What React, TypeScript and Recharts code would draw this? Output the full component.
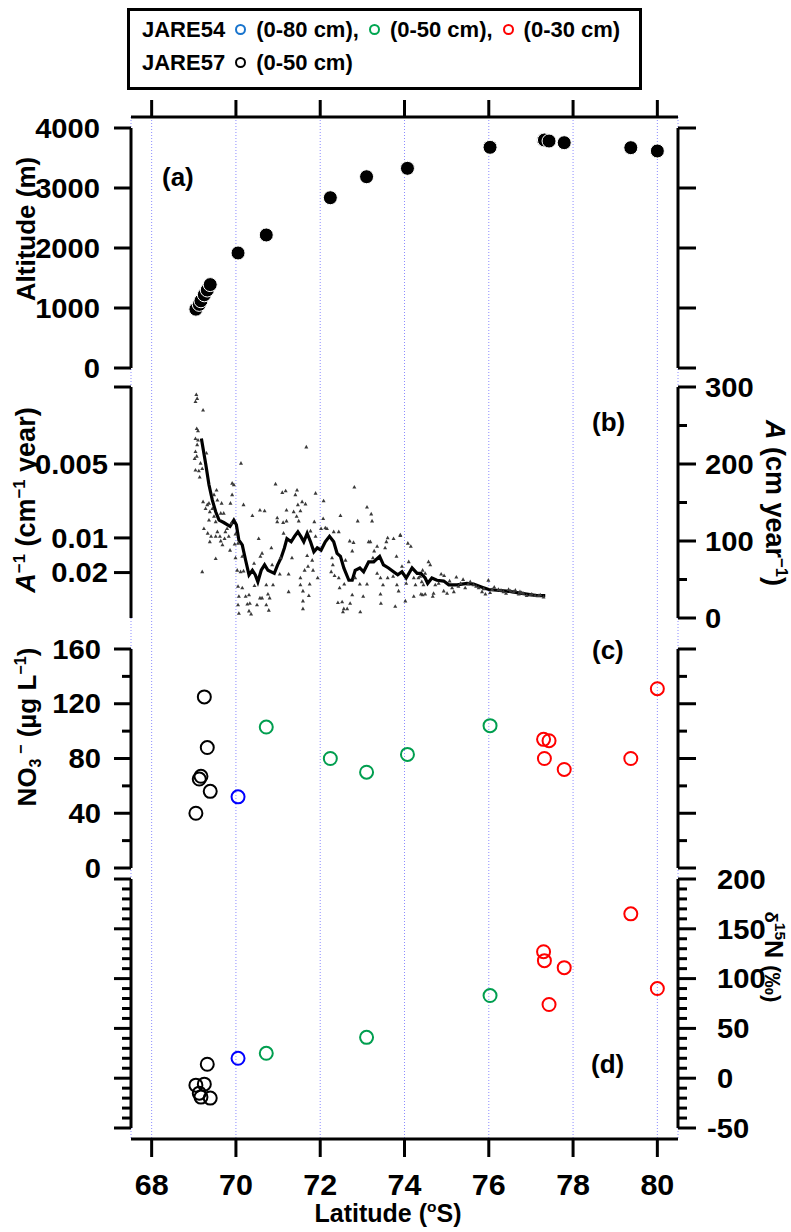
import React from 'react';
import { ComposedChart, Scatter, Line, XAxis, YAxis, CartesianGrid } from 'recharts';

// ---------- data ----------
const X_DOMAIN: [number, number] = [67.51, 80.49];
const latTicks = [68, 70, 72, 74, 76, 78, 80];

// JARE57 (0-50 cm) black
const lat57 = [69.05, 69.13, 69.17, 69.25, 69.32, 69.39];
const alt57 = [980, 1060, 1120, 1220, 1300, 1390];
const no3_57 = [40, 65, 67, 125, 88, 56];
const d15_57 = [-7, -15, -19, -6, 14, -20];

// JARE54 (0-80 cm) blue
const lat80 = [70.05];
const alt80 = [1917];
const no3_80 = [52];
const d15_80 = [20];

// JARE54 (0-50 cm) green
const lat50 = [70.72, 72.24, 73.1, 74.07, 76.03];
const alt50 = [2217, 2838, 3188, 3328, 3678];
const no3_50 = [103, 80, 70, 83, 104];
const d15_50: (number | null)[] = [25, null, 41, null, 83];

// JARE54 (0-30 cm) red
const lat30 = [77.3, 77.32, 77.43, 77.79, 79.37, 80.0];
const alt30 = [3800, 3800, 3783, 3755, 3672, 3617];
const no3_30 = [94, 80, 93, 72, 80, 131];
const d15_30 = [127, 118, 74, 111, 165, 90];

// Panel (b) accumulation scatter (A, cm year-1)
const bScatLat = [
  69.06, 69.08, 69.04, 69.22, 69.07, 69.1, 69.04, 69.1, 69.08, 69.04, 69.07, 69.02, 69.16, 69.04, 69.12, 69.2, 69.14, 69.3, 69.2, 69.22,
  69.28, 69.32, 69.36, 69.54, 69.48, 69.56, 69.66, 69.38, 69.44, 69.36, 69.48, 69.52, 69.64, 69.71, 69.24, 69.33, 69.41, 69.38, 69.52, 69.56,
  69.62, 69.64, 69.68, 69.75, 69.79, 69.73, 69.83, 69.86, 69.52, 69.87, 69.91, 69.95, 69.91, 69.89, 69.99, 69.97, 69.99, 70.05, 70.03, 70.12,
  70.18, 70.15, 70.11, 70.18, 70.05, 70.15, 70.07, 70.05, 70.07, 70.23, 70.31, 70.27, 70.33, 70.31, 70.36, 70.39, 70.43, 70.44, 70.5, 70.54,
  70.57, 70.68, 70.58, 70.62, 70.62, 70.57, 70.72, 70.76, 70.8, 70.72, 70.78, 70.84, 70.88, 70.86, 70.94, 70.98, 70.98, 71.06, 71.04, 71.1,
  71.18, 71.2, 71.12, 71.2, 71.13, 71.25, 71.25, 71.41, 71.45, 71.37, 71.47, 71.44, 71.49, 71.57, 71.53, 71.33, 71.53, 71.59, 71.59, 71.63,
  71.67, 71.65, 71.89, 71.86, 72.08, 72.07, 71.77, 71.89, 72.02, 72.12, 72.16, 72.32, 72.44, 72.48, 72.81, 73.11, 72.89, 73.21, 73.23, 72.7,
  72.79, 72.76, 73.15, 73.19, 73.6, 73.57, 73.35, 73.28, 73.54, 73.9, 74.08, 74.15, 71.69, 71.81, 71.83, 71.71, 71.53, 71.75, 71.94, 71.73,
  71.59, 72.28, 72.3, 72.26, 72.34, 72.44, 72.46, 72.57, 72.6, 72.42, 72.52, 72.56, 72.54, 72.64, 72.71, 72.76, 72.83, 72.94, 72.95, 73.02,
  73.11, 73.25, 73.35, 73.43, 73.49, 73.43, 73.44, 73.6, 73.73, 73.82, 73.86, 73.78, 73.94, 74.04, 74.02, 74.1, 74.22, 74.26, 74.33, 74.41,
  74.39, 74.22, 74.45, 74.43, 74.57, 74.61, 74.49, 74.37, 74.43, 74.49, 74.67, 74.69, 74.73, 74.81, 74.87, 74.94, 74.93, 75.01, 75.07, 75.13,
  75.17, 75.23, 75.28, 75.39, 75.44, 75.56, 75.64, 75.76, 75.84, 75.92, 75.99, 76.03, 76.13, 76.23, 76.35, 76.47, 76.59, 76.71, 76.82, 76.9,
  77.02, 77.1, 77.22, 77.3, 76.41, 76.74, 75.33, 75.51, 75.7, 75.88, 76.08, 76.29, 76.52, 76.63, 76.78, 76.98, 77.18, 73.74, 73.9, 73.81,
];
const bScatA = [
  290, 285, 281, 270, 246, 243, 233, 231, 225, 216, 210, 207, 201, 192, 191, 194, 183, 214, 60, 151,
  142, 147, 149, 166, 160, 153, 149, 138, 142, 127, 132, 125, 136, 136, 116, 110, 106, 99, 106, 112,
  106, 100, 95, 112, 116, 103, 106, 88, 77, 149, 175, 173, 160, 123, 109, 96, 78, 97, 62, 201,
  147, 80, 60, 61, 41, 39, 28, 17, 6, 28, 30, 18, 19, 9, 5, 133, 71, 42, 17, 103,
  140, 139, 80, 84, 26, 26, 43, 31, 26, 17, 10, 91, 43, 69, 174, 130, 125, 78, 57, 163,
  165, 140, 124, 126, 110, 57, 34, 160, 166, 138, 147, 132, 126, 151, 139, 78, 52, 35, 12, 62,
  222, 148, 162, 125, 152, 129, 113, 106, 116, 117, 116, 112, 112, 133, 170, 144, 126, 135, 126, 100,
  98, 87, 99, 99, 104, 99, 93, 87, 91, 107, 97, 93, 81, 75, 62, 67, 43, 44, 52, 29,
  22, 78, 69, 60, 55, 52, 39, 44, 75, 20, 21, 12, 8, 12, 19, 30, 52, 44, 8, 28,
  44, 78, 58, 52, 43, 31, 19, 52, 54, 43, 35, 15, 67, 45, 22, 73, 52, 43, 52, 47,
  31, 28, 43, 62, 73, 69, 58, 54, 30, 31, 28, 32, 43, 45, 57, 55, 35, 32, 48, 39,
  34, 53, 41, 50, 39, 47, 43, 39, 34, 31, 49, 33, 40, 37, 34, 37, 34, 31, 32, 29,
  31, 29, 30, 27, 32, 34, 45, 44, 41, 38, 37, 36, 35, 36, 33, 30, 29, 103, 108, 80,
];

// Panel (b) running mean
const bLineLat = [
  69.18, 69.28, 69.36, 69.44, 69.52, 69.6, 69.71, 69.86, 69.95, 70.01, 70.07, 70.15, 70.23, 70.31, 70.39, 70.46, 70.52, 70.6, 70.68, 70.76,
  70.91, 70.99, 71.07, 71.15, 71.21, 71.31, 71.39, 71.47, 71.55, 71.61, 71.69, 71.77, 71.85, 71.93, 72.02, 72.12, 72.22, 72.32, 72.4, 72.48,
  72.56, 72.68, 72.76, 72.83, 72.94, 73.03, 73.15, 73.27, 73.41, 73.5, 73.62, 73.74, 73.84, 73.94, 74.04, 74.18, 74.3, 74.39, 74.49, 74.55,
  74.65, 74.77, 74.93, 75.05, 75.25, 75.48, 75.64, 75.84, 76.0, 76.19, 76.43, 76.67, 76.9, 77.14, 77.34,
];
const bLineA = [
  233, 201, 173, 153, 138, 127, 124, 119, 127, 121, 101, 95, 75, 56, 62, 56, 47, 62, 69, 62,
  58, 69, 78, 91, 103, 99, 106, 112, 105, 99, 110, 99, 86, 91, 88, 99, 106, 99, 84, 80,
  65, 49, 49, 62, 65, 60, 73, 73, 80, 69, 65, 60, 56, 60, 52, 65, 58, 58, 52, 45,
  52, 49, 48, 43, 43, 45, 44, 40, 37, 36, 35, 33, 31, 29, 29,
];

// axis ticks
const altTicks = [0, 1000, 2000, 3000, 4000];
const bRightTicks = [0, 50, 100, 150, 200, 250, 300];
const bRightMajor = [0, 100, 200, 300];
const bLeftTicks = [59, 104, 200, 300];
const bLeftLabels: Record<string, string> = { '59': '0.02', '104': '0.01', '200': '0.005' };
const no3Ticks = [0, 20, 40, 60, 80, 100, 120, 140, 160];
const no3Major = [0, 40, 80, 120, 160];
const d15Ticks = [-50, -40, -30, -20, -10, 0, 10, 20, 30, 40, 50, 60, 70, 80, 90, 100, 110, 120, 130, 140, 150, 160, 170, 180, 190, 200];
const d15Major = [-50, 0, 50, 100, 150, 200];

// ---------- helpers ----------
const FONT = "'Liberation Sans', Arial, Helvetica, sans-serif";
const pts = (xs: number[], ys: (number | null)[]) =>
  xs.map((x, i) => ({ x, y: ys[i] })).filter((p) => p.y !== null && p.y !== undefined) as { x: number; y: number }[];
const labelsOf = (vals: number[]) => {
  const r: Record<string, string> = {};
  vals.forEach((v) => (r[String(v)] = String(v)));
  return r;
};

type TickCfg = {
  side: 'left' | 'right';
  major: number[];
  labels?: Record<string, string>;
  majorLen: number;
  minorLen: number;
  gap: number;
  fs?: number;
};
const SX = 1.08;
const makeYTick = (cfg: TickCfg) => (props: any) => {
  const { x, y, payload } = props;
  const v = payload.value;
  const isMajor = cfg.major.includes(v);
  const len = isMajor ? cfg.majorLen : cfg.minorLen;
  const dir = cfg.side === 'left' ? -1 : 1;
  const label = cfg.labels ? cfg.labels[String(v)] : undefined;
  const fs = cfg.fs ?? 27;
  let tx = cfg.side === 'left' ? x - cfg.gap : x + cfg.gap;
  if (cfg.side === 'right' && label && label.startsWith('-')) tx -= 10;
  return (
    <g>
      <line x1={x} y1={y} x2={x + dir * len} y2={y} stroke="#000" strokeWidth={3} />
      {label ? (
        <text
          transform={`translate(${tx},${y + fs * 0.36}) scale(${SX},1)`}
          x={0}
          y={0}
          textAnchor={cfg.side === 'left' ? 'end' : 'start'}
          fontSize={fs}
          fontWeight={700}
          fontFamily={FONT}
          fill="#000"
        >
          {label}
        </text>
      ) : null}
    </g>
  );
};

const bottomTick = (props: any) => {
  const { x, y, payload } = props;
  return (
    <g>
      <line x1={x} y1={y} x2={x} y2={y + 18} stroke="#000" strokeWidth={3} />
      <text
        transform={`translate(${x},${y + 56}) scale(1.05,1)`}
        x={0}
        y={0}
        textAnchor="middle"
        fontSize={29}
        fontWeight={700}
        fontFamily={FONT}
        fill="#000"
      >
        {payload.value}
      </text>
    </g>
  );
};
const topTick = (props: any) => {
  const { x, y } = props;
  return <line x1={x} y1={y} x2={x} y2={y - 17} stroke="#000" strokeWidth={3} />;
};

const filledDot = (p: any) => <circle cx={p.cx} cy={p.cy} r={7} fill="#000" stroke="#fff" strokeWidth={1} />;
const ring = (color: string) => (p: any) => <circle cx={p.cx} cy={p.cy} r={6.5} fill="none" stroke={color} strokeWidth={2} />;
const tri = (p: any) => (
  <path d={`M${p.cx},${p.cy - 2.2}L${p.cx + 2},${p.cy + 1.4}L${p.cx - 2},${p.cy + 1.4}Z`} fill="#3a3a3a" />
);

const AXIS_LINE = { stroke: '#000', strokeWidth: 3 };
const PAD = 30;

function PanelChart({ top, bottom, children }: { top: number; bottom: number; children: React.ReactNode }) {
  const h = bottom - top + PAD * 2;
  return (
    <div style={{ position: 'absolute', left: 0, top: top - PAD, width: 791, height: h }}>
      <ComposedChart width={791} height={h} margin={{ top: PAD, bottom: PAD, left: 0, right: 0 }}>
        <XAxis type="number" dataKey="x" domain={X_DOMAIN} hide allowDataOverflow />
        {children}
      </ComposedChart>
    </div>
  );
}

const yAxisCommon = {
  type: 'number' as const,
  dataKey: 'y',
  tickLine: false,
  tickSize: 0,
  tickMargin: 0,
  interval: 0 as const,
  axisLine: AXIS_LINE,
  allowDataOverflow: true,
};

const supS: React.CSSProperties = { fontSize: '0.62em', position: 'relative', top: '-0.62em' };
const subS: React.CSSProperties = { fontSize: '0.62em', position: 'relative', top: '0.3em' };

function Rot({ cx, cy, deg, fs = 26, children }: { cx: number; cy: number; deg: number; fs?: number; children: React.ReactNode }) {
  return (
    <div
      style={{
        position: 'absolute',
        left: cx,
        top: cy,
        transform: `translate(-50%, -50%) rotate(${deg}deg)`,
        whiteSpace: 'nowrap',
        fontFamily: FONT,
        fontWeight: 700,
        fontSize: fs,
        lineHeight: 1,
        color: '#000',
      }}
    >
      {children}
    </div>
  );
}

function PanelLabel({ left, cy, text }: { left: number; cy: number; text: string }) {
  return (
    <div style={{ position: 'absolute', left, top: cy - 13, fontFamily: FONT, fontWeight: 700, fontSize: 26, lineHeight: '26px', whiteSpace: 'nowrap' }}>
      {text}
    </div>
  );
}

const LegCircle = ({ color }: { color: string }) => (
  <span
    style={{
      display: 'inline-block',
      width: 7,
      height: 7,
      border: `2px solid ${color}`,
      borderRadius: '50%',
      margin: '0 10px 0 10px',
      verticalAlign: 'middle',
      position: 'relative',
      top: -2,
    }}
  />
);

export default function App() {
  const blackPts = pts(lat57, alt57).concat(pts(lat80, alt80), pts(lat50, alt50), pts(lat30, alt30));
  const bScat = pts(bScatLat, bScatA);
  const bLine = pts(bLineLat, bLineA);

  return (
    <div style={{ position: 'absolute', left: 0, top: 0, width: 791, height: 1232, background: '#fff', overflow: 'hidden' }}>
      {/* background: x axes + vertical grid */}
      <div style={{ position: 'absolute', left: 0, top: 0, width: 791, height: 1232 }}>
        <ComposedChart width={791} height={1232} margin={{ top: 116, bottom: 92, left: 131, right: 113 }}>
          <CartesianGrid xAxisId="b" horizontal={false} stroke="#8c8cff" strokeDasharray="1 2" strokeWidth={1} />
          <XAxis
            xAxisId="b"
            type="number"
            dataKey="x"
            domain={X_DOMAIN}
            ticks={latTicks}
            interval={0}
            orientation="bottom"
            height={1}
            tickSize={0}
            tickMargin={0}
            tickLine={false}
            tick={bottomTick}
            axisLine={AXIS_LINE}
            allowDataOverflow
          />
          <XAxis
            xAxisId="t"
            type="number"
            dataKey="x"
            domain={X_DOMAIN}
            ticks={latTicks}
            interval={0}
            orientation="top"
            height={1}
            tickSize={0}
            tickMargin={0}
            tickLine={false}
            tick={topTick}
            axisLine={AXIS_LINE}
            allowDataOverflow
          />
          <YAxis hide type="number" dataKey="y" domain={[0, 1]} />
          <Scatter xAxisId="b" data={[{ x: 74, y: 0.5 }]} shape={() => <g />} isAnimationActive={false} />
          <Scatter xAxisId="t" data={[{ x: 74, y: 0.5 }]} shape={() => <g />} isAnimationActive={false} />
        </ComposedChart>
      </div>

      {/* (a) altitude */}
      <PanelChart top={128} bottom={368}>
        <YAxis
          {...yAxisCommon}
          yAxisId="l"
          orientation="left"
          width={131}
          domain={[0, 4000]}
          ticks={altTicks}
          tick={makeYTick({ side: 'left', major: altTicks, labels: labelsOf(altTicks), majorLen: 17, minorLen: 9, gap: 31 })}
        />
        <YAxis
          {...yAxisCommon}
          yAxisId="r"
          orientation="right"
          width={113}
          domain={[0, 4000]}
          ticks={altTicks}
          tick={makeYTick({ side: 'right', major: altTicks, majorLen: 18, minorLen: 9, gap: 20 })}
        />
        <Scatter yAxisId="l" data={blackPts} shape={filledDot} isAnimationActive={false} />
      </PanelChart>

      {/* (b) accumulation */}
      <PanelChart top={387} bottom={618}>
        <YAxis
          {...yAxisCommon}
          yAxisId="l"
          orientation="left"
          width={131}
          domain={[0, 300]}
          ticks={bLeftTicks}
          tick={makeYTick({ side: 'left', major: bLeftTicks, labels: bLeftLabels, majorLen: 17, minorLen: 9, gap: 23 })}
        />
        <YAxis
          {...yAxisCommon}
          yAxisId="r"
          orientation="right"
          width={113}
          domain={[0, 300]}
          ticks={bRightTicks}
          tick={makeYTick({ side: 'right', major: bRightMajor, labels: labelsOf(bRightMajor), majorLen: 18, minorLen: 9, gap: 27 })}
        />
        <Scatter yAxisId="l" data={bScat} shape={tri} isAnimationActive={false} />
        <Line yAxisId="l" data={bLine} dataKey="y" type="linear" stroke="#000" strokeWidth={3.2} dot={false} isAnimationActive={false} />
      </PanelChart>

      {/* (c) nitrate */}
      <PanelChart top={649} bottom={868}>
        <YAxis
          {...yAxisCommon}
          yAxisId="l"
          orientation="left"
          width={131}
          domain={[0, 160]}
          ticks={no3Ticks}
          tick={makeYTick({ side: 'left', major: no3Major, labels: labelsOf(no3Major), majorLen: 17, minorLen: 9, gap: 30 })}
        />
        <YAxis
          {...yAxisCommon}
          yAxisId="r"
          orientation="right"
          width={113}
          domain={[0, 160]}
          ticks={no3Ticks}
          tick={makeYTick({ side: 'right', major: no3Major, majorLen: 18, minorLen: 9, gap: 20 })}
        />
        <Scatter yAxisId="l" data={pts(lat57, no3_57)} shape={ring('#000')} isAnimationActive={false} />
        <Scatter yAxisId="l" data={pts(lat80, no3_80)} shape={ring('#0000ff')} isAnimationActive={false} />
        <Scatter yAxisId="l" data={pts(lat50, no3_50)} shape={ring('#009e4f')} isAnimationActive={false} />
        <Scatter yAxisId="l" data={pts(lat30, no3_30)} shape={ring('#ff0000')} isAnimationActive={false} />
      </PanelChart>

      {/* (d) d15N */}
      <PanelChart top={879} bottom={1128}>
        <YAxis
          {...yAxisCommon}
          yAxisId="l"
          orientation="left"
          width={131}
          domain={[-50, 200]}
          ticks={d15Ticks}
          tick={makeYTick({ side: 'left', major: d15Major, majorLen: 17, minorLen: 9, gap: 30 })}
        />
        <YAxis
          {...yAxisCommon}
          yAxisId="r"
          orientation="right"
          width={113}
          domain={[-50, 200]}
          ticks={d15Ticks}
          tick={makeYTick({ side: 'right', major: d15Major, labels: labelsOf(d15Major), majorLen: 18, minorLen: 9, gap: 39 })}
        />
        <Scatter yAxisId="l" data={pts(lat57, d15_57)} shape={ring('#000')} isAnimationActive={false} />
        <Scatter yAxisId="l" data={pts(lat80, d15_80)} shape={ring('#0000ff')} isAnimationActive={false} />
        <Scatter yAxisId="l" data={pts(lat50, d15_50)} shape={ring('#009e4f')} isAnimationActive={false} />
        <Scatter yAxisId="l" data={pts(lat30, d15_30)} shape={ring('#ff0000')} isAnimationActive={false} />
      </PanelChart>

      {/* legend */}
      <div
        style={{
          position: 'absolute',
          left: 127,
          top: 8,
          width: 515,
          height: 82,
          boxSizing: 'border-box',
          border: '3px solid #000',
          padding: '2px 0 0 12px',
          fontFamily: FONT,
          fontWeight: 700,
          fontSize: 22,
          lineHeight: '33px',
          whiteSpace: 'nowrap',
          background: '#fff',
        }}
      >
        <div>
          JARE54
          <LegCircle color="#1874cd" />
          (0-80 cm),
          <LegCircle color="#00a651" />
          (0-50 cm),
          <LegCircle color="#ff0000" />
          (0-30 cm)
        </div>
        <div>
          JARE57
          <LegCircle color="#000" />
          (0-50 cm)
        </div>
      </div>

      {/* panel labels */}
      <PanelLabel left={162} cy={177} text="(a)" />
      <PanelLabel left={592} cy={422} text="(b)" />
      <PanelLabel left={592} cy={650} text="(c)" />
      <PanelLabel left={591} cy={1064} text="(d)" />

      {/* axis titles */}
      <Rot cx={26} cy={229} deg={-90}>Altitude (m)</Rot>
      <Rot cx={26} cy={500} deg={-90} fs={27}>
        <i>A</i>
        <span style={supS}>−1</span> (cm<span style={supS}>−1</span> year)
      </Rot>
      <Rot cx={27} cy={727} deg={-90} fs={26}>
        NO<span style={subS}>3</span>
        <span style={supS}> −</span> (µg L<span style={supS}>−1</span>)
      </Rot>
      <Rot cx={774} cy={503} deg={90} fs={27}>
        <i>A</i> (cm year<span style={supS}>−1</span>)
      </Rot>
      <Rot cx={773} cy={957} deg={90} fs={25}>
        <span style={{ fontSize: '0.75em' }}>δ</span>
        <span style={supS}>15</span>N <span style={{ fontSize: '0.9em' }}>(‰)</span>
      </Rot>
      <div
        style={{
          position: 'absolute',
          left: 388,
          top: 1213,
          transform: 'translate(-50%, -50%)',
          fontFamily: FONT,
          fontWeight: 700,
          fontSize: 25,
          lineHeight: 1,
          whiteSpace: 'nowrap',
        }}
      >
        Latitude (<span style={supS}>o</span>S)
      </div>
    </div>
  );
}
